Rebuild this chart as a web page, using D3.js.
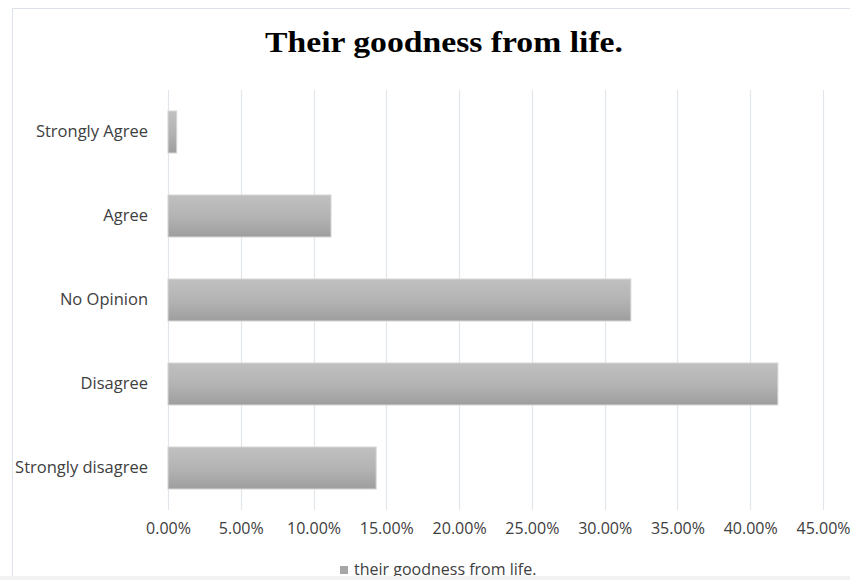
<!DOCTYPE html>
<html>
<head>
<meta charset="utf-8">
<script src="https://cdn.jsdelivr.net/npm/d3@7/dist/d3.min.js"></script>
<style>
  html, body { margin: 0; padding: 0; background: #ffffff; }
  svg { display: block; }
</style>
</head>
<body>
<svg id="chart" width="850" height="580"></svg>
<script>
const categories = ["Strongly Agree", "Agree", "No Opinion", "Disagree", "Strongly disagree"];
const values = [0.006, 0.112, 0.318, 0.419, 0.143];
const tickValues = [0, 0.05, 0.10, 0.15, 0.20, 0.25, 0.30, 0.35, 0.40, 0.45];
const title = "Their goodness from life.";
const seriesName = "their goodness from life.";

const data = categories.map((c, i) => ({ category: c, value: values[i] }));

const svg = d3.select("#chart");
const W = 850, H = 580;
const plotLeft = 168, plotRight = 823, plotTop = 90, plotBottom = 510;
const labelFont = "'Open Sans', Lato, sans-serif";

// chart border
svg.append("rect")
  .attr("x", 12.5).attr("y", 8.5)
  .attr("width", 860).attr("height", 600)
  .attr("fill", "#ffffff")
  .attr("stroke", "#dde2ea").attr("stroke-width", 1);

const defs = svg.append("defs");
const grad = defs.append("linearGradient")
  .attr("id", "barGrad").attr("x1", 0).attr("y1", 0).attr("x2", 0).attr("y2", 1);
grad.append("stop").attr("offset", "0%").attr("stop-color", "#c0c0c0");
grad.append("stop").attr("offset", "50%").attr("stop-color", "#b4b4b4");
grad.append("stop").attr("offset", "100%").attr("stop-color", "#9e9e9e");

const x = d3.scaleLinear().domain([0, 0.45]).range([plotLeft, plotRight]);
const y = d3.scaleBand().domain(categories).range([plotTop, plotBottom])
  .paddingInner(0.5).paddingOuter(0.25);

// gridlines
svg.append("g").selectAll("line")
  .data(tickValues)
  .join("line")
  .attr("x1", d => Math.round(x(d)) + 0.5)
  .attr("x2", d => Math.round(x(d)) + 0.5)
  .attr("y1", plotTop).attr("y2", plotBottom)
  .attr("stroke", "#e2e5eb").attr("stroke-width", 1.2);

// bars
svg.append("g").selectAll("rect")
  .data(data)
  .join("rect")
  .attr("x", x(0))
  .attr("y", d => y(d.category))
  .attr("width", d => x(d.value) - x(0))
  .attr("height", y.bandwidth())
  .attr("fill", "url(#barGrad)")
  .attr("stroke", "#d6d6d6").attr("stroke-width", 1);

// x axis
const xAxis = svg.append("g")
  .attr("transform", `translate(0,${plotBottom})`)
  .call(d3.axisBottom(x).tickValues(tickValues).tickSize(0).tickPadding(13)
    .tickFormat(d3.format(".2%")));
xAxis.select(".domain").remove();
xAxis.selectAll("text")
  .attr("font-family", labelFont)
  .attr("font-size", 16).attr("fill", "#404040");

// y axis
const yAxis = svg.append("g")
  .attr("transform", `translate(${plotLeft},0)`)
  .call(d3.axisLeft(y).tickSize(0).tickPadding(20));
yAxis.select(".domain").remove();
yAxis.selectAll("text")
  .attr("font-family", labelFont)
  .attr("font-size", 16.5).attr("fill", "#404040");

// title
svg.append("text")
  .attr("x", 444).attr("y", 52)
  .attr("text-anchor", "middle")
  .attr("font-family", "'Liberation Serif', 'Times New Roman', serif")
  .attr("font-weight", "bold")
  .attr("font-size", 29)
  .attr("textLength", 358)
  .attr("lengthAdjust", "spacingAndGlyphs")
  .attr("fill", "#000000")
  .text(title);

// legend
const lg = svg.append("g").attr("transform", "translate(340,575)");
lg.append("rect").attr("x", 0).attr("y", -9).attr("width", 8).attr("height", 8)
  .attr("fill", "#a6a6a6");
lg.append("text").attr("x", 14).attr("y", 0)
  .attr("font-family", labelFont)
  .attr("font-size", 16).attr("fill", "#404040")
  .text(seriesName);

// bottom band
svg.append("rect").attr("x", 0).attr("y", 576).attr("width", W).attr("height", 4)
  .attr("fill", "#f2f2f2");
</script>
</body>
</html>
